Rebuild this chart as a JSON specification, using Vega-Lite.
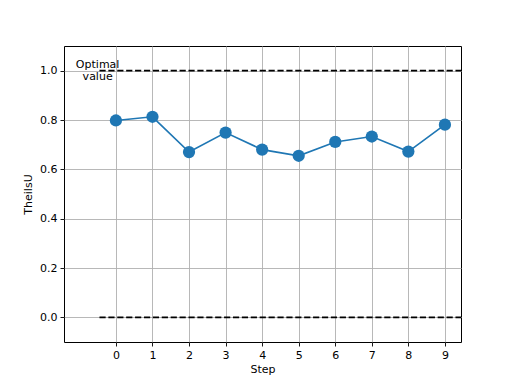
{
  "$schema": "https://vega.github.io/schema/vega-lite/v6.json",
  "width": 397,
  "height": 296,
  "autosize": "none",
  "padding": {"left": 64, "top": 46, "right": 51, "bottom": 42},
  "background": "white",
  "config": {
    "view": {"stroke": "black", "strokeWidth": 1},
    "font": "DejaVu Sans",
    "axis": {
      "labelFont": "DejaVu Sans",
      "titleFont": "DejaVu Sans",
      "labelFontSize": 11,
      "titleFontSize": 11,
      "titleFontWeight": "normal",
      "labelColor": "black",
      "titleColor": "black",
      "tickColor": "black",
      "tickSize": 4,
      "tickWidth": 0.9,
      "domain": false,
      "gridColor": "#b0b0b0",
      "gridWidth": 0.9,
      "gridOpacity": 1,
      "labelPadding": 3
    }
  },
  "datasets": {
    "series": [
      {"Step": 0, "TheilsU": 0.798},
      {"Step": 1, "TheilsU": 0.813},
      {"Step": 2, "TheilsU": 0.670},
      {"Step": 3, "TheilsU": 0.749},
      {"Step": 4, "TheilsU": 0.680},
      {"Step": 5, "TheilsU": 0.655},
      {"Step": 6, "TheilsU": 0.711},
      {"Step": 7, "TheilsU": 0.733},
      {"Step": 8, "TheilsU": 0.672},
      {"Step": 9, "TheilsU": 0.781}
    ],
    "refs": [
      {"start": -0.45, "end": 9.44, "level": 1.0},
      {"start": -0.45, "end": 9.44, "level": 0.0}
    ],
    "label": [
      {"x": -0.5, "y": 1.0, "text": "Optimal\nvalue"}
    ]
  },
  "layer": [
    {
      "data": {"name": "refs"},
      "mark": {"type": "rule", "color": "black", "strokeWidth": 1.67, "strokeDash": [6.2, 2.7]},
      "encoding": {
        "x": {"field": "start", "type": "quantitative", "scale": {"domain": [-1.42, 9.44], "nice": false, "zero": false},
              "axis": {"title": "Step", "values": [0,1,2,3,4,5,6,7,8,9], "grid": true, "titlePadding": 3}},
        "x2": {"field": "end"},
        "y": {"field": "level", "type": "quantitative", "scale": {"domain": [-0.1, 1.1], "nice": false, "zero": false},
              "axis": {"title": "TheilsU", "values": [0, 0.2, 0.4, 0.6, 0.8, 1.0], "format": ".1f", "grid": true, "titlePadding": 6}}
      }
    },
    {
      "data": {"name": "series"},
      "mark": {"type": "line", "color": "#1f77b4", "strokeWidth": 1.67},
      "encoding": {
        "x": {"field": "Step", "type": "quantitative"},
        "y": {"field": "TheilsU", "type": "quantitative"}
      }
    },
    {
      "data": {"name": "series"},
      "mark": {"type": "circle", "color": "#1f77b4", "opacity": 1, "size": 150},
      "encoding": {
        "x": {"field": "Step", "type": "quantitative"},
        "y": {"field": "TheilsU", "type": "quantitative"}
      }
    },
    {
      "data": {"name": "label"},
      "mark": {"type": "text", "align": "center", "baseline": "middle", "lineBreak": "\n", "fontSize": 11, "font": "DejaVu Sans", "color": "black", "lineHeight": 12, "dy": -6},
      "encoding": {
        "x": {"field": "x", "type": "quantitative"},
        "y": {"field": "y", "type": "quantitative"},
        "text": {"field": "text"}
      }
    }
  ]
}
